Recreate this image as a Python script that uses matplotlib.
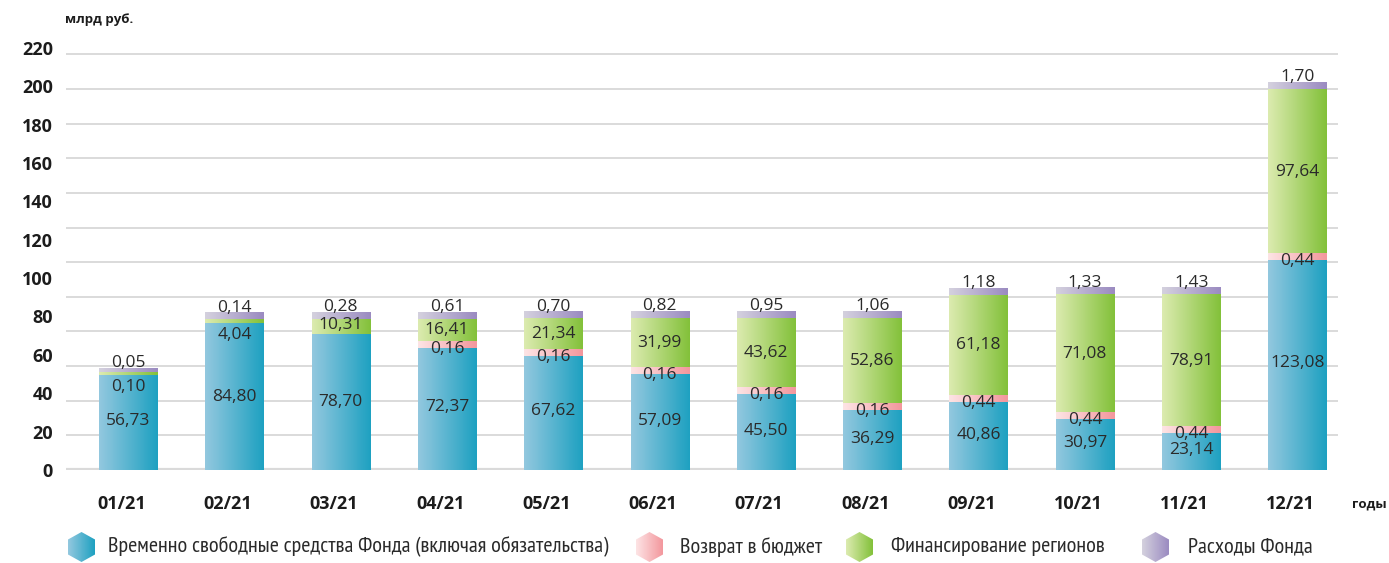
import numpy as np
import matplotlib.pyplot as plt
from matplotlib.colors import LinearSegmentedColormap
from matplotlib.patches import Polygon

plt.rcParams['font.family'] = ['Open Sans', 'DejaVu Sans']

# data, млрд руб.
months = ['01/21', '02/21', '03/21', '04/21', '05/21', '06/21',
          '07/21', '08/21', '09/21', '10/21', '11/21', '12/21']
free_funds = [56.73, 84.80, 78.70, 72.37, 67.62, 57.09, 45.50, 36.29, 40.86, 30.97, 23.14, 123.08]
budget_return = [0, 0, 0, 0.16, 0.16, 0.16, 0.16, 0.16, 0.44, 0.44, 0.44, 0.44]
regions = [0.10, 4.04, 10.31, 16.41, 21.34, 31.99, 43.62, 52.86, 61.18, 71.08, 78.91, 97.64]
expenses = [0.05, 0.14, 0.28, 0.61, 0.70, 0.82, 0.95, 1.06, 1.18, 1.33, 1.43, 1.70]
y_ticks = list(range(0, 221, 20))

names = ['Временно свободные средства Фонда (включая обязательства)',
         'Возврат в бюджет', 'Финансирование регионов', 'Расходы Фонда']
grads = [('#93c8df', '#1ea1c1'), ('#fde4e5', '#f3979d'),
         ('#dcebb0', '#83c13a'), ('#d4d1de', '#9b8bc1')]
cmaps = [LinearSegmentedColormap.from_list('c%d' % i, g) for i, g in enumerate(grads)]
grad = np.linspace(0, 1, 64).reshape(1, -1)

W, H = 1389, 563
fig = plt.figure(figsize=(W / 100, H / 100), dpi=100)
ax = fig.add_axes([66 / W, 93 / H, 1272 / W, 433 / H])

x = np.arange(len(months))
bw = 0.55
tmin = 3.6
txt = '#2a2a2a'


def fmt(v):
    return ('%.2f' % v).replace('.', ',')


def gbox(a, x0, x1, y0, y1, cmap, z):
    a.imshow(grad, extent=(x0, x1, y0, y1), aspect='auto', cmap=cmap,
             origin='lower', zorder=z, interpolation='bicubic')


series = [free_funds, budget_return, regions, expenses]
for i in x:
    vals = [s[i] for s in series]
    segs = []
    base = 0
    for k, v in enumerate(vals):
        if v <= 0:
            continue
        lo, hi = base, base + v
        thin = v < tmin
        if thin:
            c = base + v / 2
            lo, hi = c - tmin / 2, c + tmin / 2
        segs.append([k, lo, hi, thin, v])
        base += v
    # neighbouring thin pieces share the space
    for j in range(1, len(segs)):
        if segs[j][3] and segs[j - 1][3] and segs[j - 1][2] > segs[j][1]:
            m = (segs[j - 1][2] + segs[j][1]) / 2
            segs[j - 1][2] = m
            segs[j][1] = m
    for k, lo, hi, thin, v in segs:
        gbox(ax, i - bw / 2, i + bw / 2, lo, hi, cmaps[k], 3 if thin else 2)

    top = max(s[2] for s in segs)
    for k, lo, hi, thin, v in segs:
        if k == 3:
            ax.annotate(fmt(v), (i, top), xytext=(0, 1), textcoords='offset points',
                        ha='center', va='baseline', fontsize=12.5, color=txt, zorder=5)
        elif k == 2 and v < 5:
            ax.annotate(fmt(v), (i, lo), xytext=(0, -3), textcoords='offset points',
                        ha='center', va='top', fontsize=12.5, color=txt, zorder=5)
        elif k == 1:
            ax.annotate(fmt(v), ((i), (lo + hi) / 2), xytext=(0, -3), textcoords='offset points',
                        ha='center', va='center', fontsize=12.5, color=txt, zorder=5)
        else:
            ax.text(i, (lo + hi) / 2, fmt(v), ha='center', va='center',
                    fontsize=12.5, color=txt, zorder=5)

for g in range(20, 241, 20):
    ax.axhline(g, color='#d4d4d4', lw=1.2, zorder=0)
ax.axhline(0, xmax=(1312 - 66) / 1272, color='#dadada', lw=3, zorder=1)

ax.set_xlim(-0.586, 11.381)
ax.set_ylim(0, 250)
ax.set_yticks(np.array(y_ticks) * 1.108, [str(t) for t in y_ticks])
ax.set_xticks(x - 0.066, months)
ax.tick_params(axis='y', length=0, pad=9.5, labelsize=13, labelcolor='#1c1c1c')
ax.tick_params(axis='x', length=0, pad=18, labelsize=13, labelcolor='#1c1c1c')
for lab in ax.get_xticklabels() + ax.get_yticklabels():
    lab.set_fontweight('bold')
for s in ax.spines.values():
    s.set_visible(False)

# overlay in pixel coordinates for captions and legend
ov = fig.add_axes([0, 0, 1, 1])
ov.axis('off')
ov.text(65, 20, 'млрд руб.', fontsize=9.5, fontweight='bold', color='#1c1c1c', va='center')
ov.text(1352, 504, 'годы', fontsize=9.5, fontweight='bold', color='#1c1c1c', va='center')

narrow = ['PT Sans Narrow', 'Sofia Sans Condensed', 'Open Sans']
icon_x = [68, 636, 846, 1142]
text_x = [108, 680, 891, 1188]
ly0, ly1 = 532, 562
for k in range(4):
    l, r = icon_x[k], icon_x[k] + 27
    cx = (l + r) / 2
    q = (ly1 - ly0) * 0.25
    hexa = Polygon([(cx, ly0), (r, ly0 + q), (r, ly1 - q), (cx, ly1), (l, ly1 - q), (l, ly0 + q)],
                   closed=True, facecolor='none', edgecolor='none')
    ov.add_patch(hexa)
    im = ov.imshow(grad, extent=(l, r, ly1, ly0), aspect='auto', cmap=cmaps[k], interpolation='bicubic')
    im.set_clip_path(hexa)
    ov.text(text_x[k], 547, names[k], fontsize=16, color='#2a2a2a', va='center', family=narrow)
ov.set_xlim(0, W)
ov.set_ylim(H, 0)

fig.savefig('out.png', dpi=100)
